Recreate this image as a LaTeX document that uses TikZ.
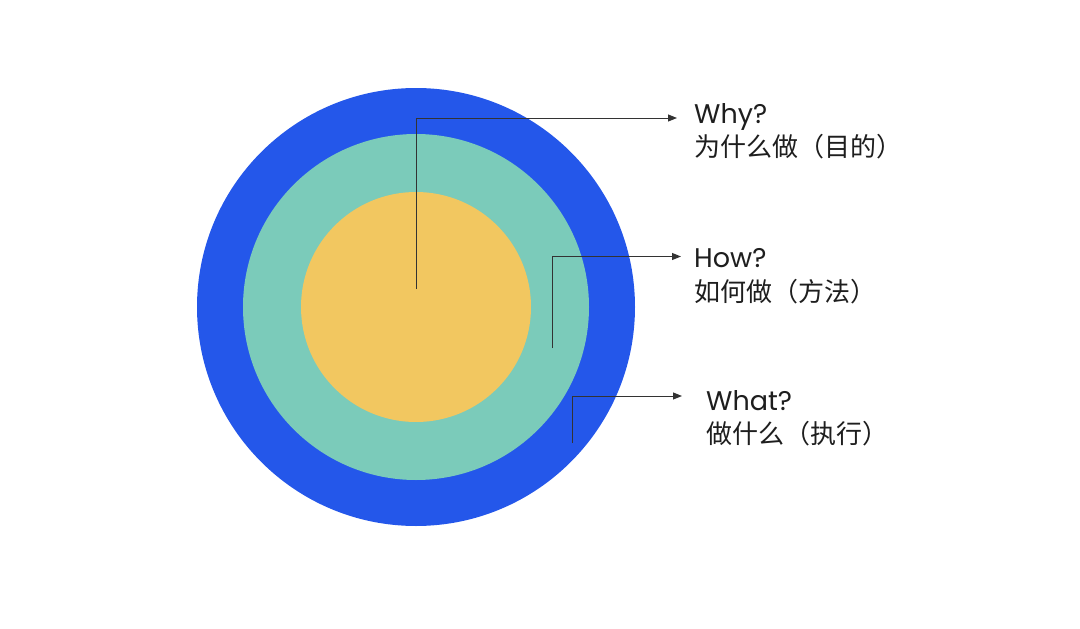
\documentclass[tikz,border=0pt]{standalone}
\usepackage{fontspec}
\setmainfont{Poppins}
\newfontfamily\cjk{Noto Sans CJK SC}
\usetikzlibrary{arrows.meta}
\definecolor{cblue}{HTML}{2457EA}
\definecolor{cteal}{HTML}{7BCBBA}
\definecolor{cyellow}{HTML}{F2C760}
\definecolor{cline}{HTML}{333333}
\definecolor{ctext}{HTML}{1E1E1E}
\tikzset{
  ring/.style={circle, inner sep=0pt, draw=none},
  conn/.style={draw=cline, line width=1pt, -{Triangle[length=9pt,width=7pt]}},
  entxt/.style={anchor=base west, inner sep=0pt, text=ctext, font=\fontsize{27}{30}\selectfont},
  zhtxt/.style={anchor=base west, inner sep=0pt, text=ctext, font=\cjk\fontsize{26}{30}\selectfont},
}
\begin{document}
\begin{tikzpicture}[x=1pt,y=-1pt]
\useasboundingbox (0,0) rectangle (1080,629);
\fill[white] (0,0) rectangle (1080,629);
\node[ring, fill=cblue, minimum size=438pt] (outer) at (416,307) {};
\node[ring, fill=cteal, minimum size=346pt] (middle) at (416,307) {};
\node[ring, fill=cyellow, minimum size=230pt] (inner) at (416,307) {};
% start and end points
\coordinate (whyS) at (416.5,289);
\coordinate (whyC) at (416.5,118);
\coordinate (whyE) at (677,118);
\coordinate (howS) at (552,348);
\coordinate (howC) at (552,256.5);
\coordinate (howE) at (681,256.5);
\coordinate (whatS) at (572,443);
\coordinate (whatC) at (572,396);
\coordinate (whatE) at (682,396);
% labels
\node[entxt] (why) at (694,123) {Why?};
\node[zhtxt] (whyzh) at (694,156) {为什么做（目的）};
\node[entxt] (how) at (694,267) {How?};
\node[zhtxt] (howzh) at (694,301) {如何做（方法）};
\node[entxt] (what) at (706,410) {What?};
\node[zhtxt] (whatzh) at (706,443) {做什么（执行）};
% connectors
\draw[conn] (whyS) -- (whyC) -- (whyE);
\draw[conn] (howS) -- (howC) -- (howE);
\draw[conn] (whatS) -- (whatC) -- (whatE);
\end{tikzpicture}
\end{document}
